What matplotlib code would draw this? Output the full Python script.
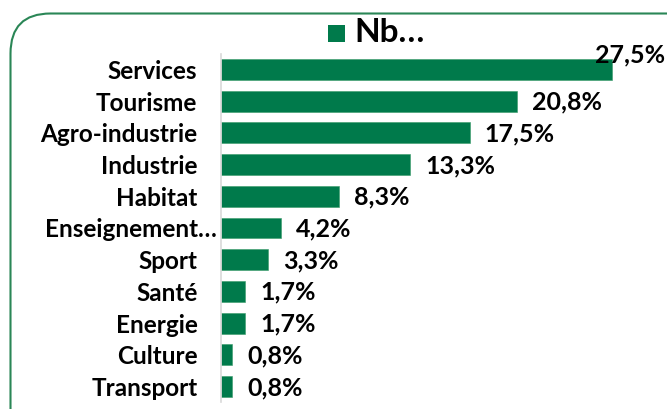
import matplotlib
matplotlib.use("Agg")
import matplotlib.pyplot as plt
import matplotlib.transforms as mtransforms
from matplotlib.patches import FancyBboxPatch, Rectangle

categories = ["Services", "Tourisme", "Agro-industrie", "Industrie", "Habitat",
              "Enseignement…", "Sport", "Santé", "Energie", "Culture", "Transport"]
values = [27.5, 20.8, 17.5, 13.3, 8.3, 4.2, 3.3, 1.7, 1.7, 0.8, 0.8]
value_labels = ["27,5%", "20,8%", "17,5%", "13,3%", "8,3%", "4,2%", "3,3%",
                "1,7%", "1,7%", "0,8%", "0,8%"]
legend_label = "Nb…"

W, H = 667, 409
fig = plt.figure(figsize=(W / 100, H / 100), dpi=100)
fig.patch.set_facecolor("white")

green = "#007A4B"
border = "#2A8656"
font = "Lato"

# rounded border
fig.patches.append(FancyBboxPatch((10.5 / W, -0.2), (W + 60) / W, 1.2 - 13.5 / H,
                                  boxstyle="round,pad=0,rounding_size=0.06",
                                  transform=fig.transFigure, fill=False,
                                  edgecolor=border, linewidth=1.5,
                                  mutation_aspect=W / H))

left = 221 / W
right = 660 / W
top = 1 - 53.65 / H
bottom = 1 - 402.35 / H
ax = fig.add_axes([left, bottom, right - left, top - bottom])
ax.set_facecolor("none")

y = list(range(len(categories)))
ax.barh(y, values, height=0.66, color=green, edgecolor="#3a9a6a", linewidth=0.4)
ax.set_ylim(len(categories) - 0.5, -0.5)
ax.set_xlim(0, 30.9)
ax.set_yticks(y)
ax.set_yticklabels(categories, fontsize=17.5, fontweight="bold", family=font)
ax.tick_params(axis="y", length=0, pad=17)
ax.set_xticks([])
for s in ["top", "right", "bottom"]:
    ax.spines[s].set_visible(False)
ax.spines["left"].set_color("#d9d9d9")
ax.spines["left"].set_linewidth(1.2)

# the truncated label overflows towards the axis in the original
for lbl in ax.get_yticklabels():
    if lbl.get_text().endswith("…"):
        lbl.set_transform(lbl.get_transform() +
                          mtransforms.ScaledTranslation(0.19, 0, fig.dpi_scale_trans))

for i, (v, lab) in enumerate(zip(values, value_labels)):
    if i == 0:
        ax.annotate(lab, xy=(1.0, i), xycoords=("axes fraction", "data"),
                    xytext=(5, 15), textcoords="offset pixels",
                    ha="right", va="center", fontsize=18, fontweight="bold",
                    family=font, annotation_clip=False)
    else:
        ax.annotate(lab, xy=(v, i), xytext=(15, -1), textcoords="offset pixels",
                    ha="left", va="center", fontsize=18, fontweight="bold",
                    family=font)

# legend
fig.patches.append(Rectangle((328 / W, 1 - 42 / H), 17 / W, 17 / H,
                             transform=fig.transFigure, facecolor=green,
                             edgecolor="none"))
fig.text(354 / W, 1 - 33 / H, legend_label, fontsize=24, fontweight="bold",
         family=font, va="center", ha="left")

fig.savefig("out.png", dpi=100)
